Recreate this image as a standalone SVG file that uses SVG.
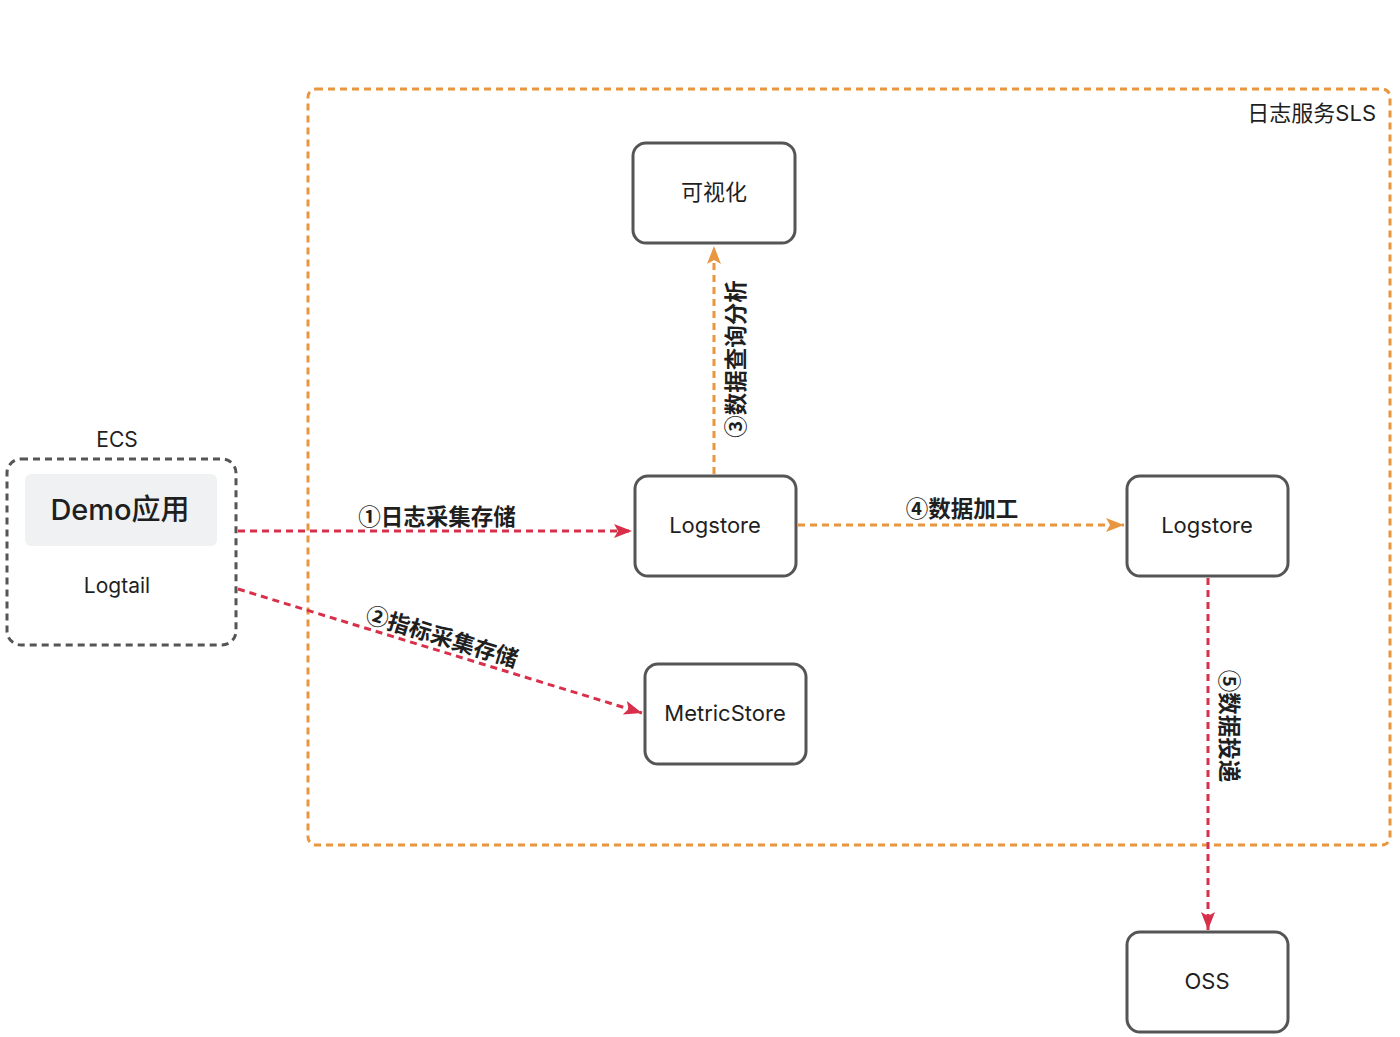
<svg xmlns="http://www.w3.org/2000/svg" width="1400" height="1037" viewBox="0 0 1400 1037">
<style>
.t{font-family:Inter,"Noto Sans CJK SC",sans-serif;fill:#1f1f1f}
.node{fill:#fff;stroke:#555;stroke-width:3}
.lbl{font-family:"Noto Sans CJK SC",sans-serif;font-weight:700;font-size:22.5px;fill:#1f1f1f}
.red{stroke:#D8304A;stroke-width:3;stroke-dasharray:7 5;fill:none}
.org{stroke:#E8963F;stroke-width:3;stroke-dasharray:7 5;fill:none}
</style>
<defs>
<marker id="ar" markerUnits="userSpaceOnUse" markerWidth="20" markerHeight="16" refX="18" refY="8" orient="auto"><path d="M0,1 L18,8 L0,15 L4,8 Z" fill="#D8304A"/></marker>
<marker id="ao" markerUnits="userSpaceOnUse" markerWidth="20" markerHeight="16" refX="18" refY="8" orient="auto"><path d="M0,1 L18,8 L0,15 L4,8 Z" fill="#E8963F"/></marker>
</defs>
<rect width="1400" height="1037" fill="#fff"/>
<g id="sls">
<rect x="308" y="89" width="1082" height="756" rx="8" fill="none" stroke="#E8963F" stroke-width="3" stroke-dasharray="7 5"/>
<text class="t" x="1376" y="121" font-size="22" text-anchor="end">日志服务SLS</text>
</g>
<g id="ecs">
<rect x="7" y="459" width="229" height="186" rx="14" fill="none" stroke="#555" stroke-width="3" stroke-dasharray="7 5"/>
<text class="t" x="117" y="447" font-size="21" text-anchor="middle">ECS</text>
<rect x="25" y="474" width="192" height="72" rx="6" fill="#F0F1F2"/>
<text class="t" x="120" y="520" font-size="29" font-weight="500" text-anchor="middle">Demo应用</text>
<text class="t" x="117" y="593" font-size="21" text-anchor="middle">Logtail</text>
</g>
<g id="connectors">
<line class="red" x1="238" y1="531" x2="632" y2="531" marker-end="url(#ar)"/>
<text class="lbl" x="437" y="525" text-anchor="middle">①日志采集存储</text>
<line class="red" x1="238" y1="589" x2="642" y2="713" marker-end="url(#ar)"/>
<text class="lbl" x="442" y="645" text-anchor="middle" transform="rotate(17 442 637)">②指标采集存储</text>
<line class="org" x1="714" y1="474" x2="714" y2="246" marker-end="url(#ao)"/>
<text class="lbl" x="0" y="0" text-anchor="middle" transform="translate(744 359) rotate(-90)">③数据查询分析</text>
<line class="org" x1="798" y1="525" x2="1124" y2="525" marker-end="url(#ao)"/>
<text class="lbl" x="962" y="517" text-anchor="middle">④数据加工</text>
<line class="red" x1="1208" y1="578" x2="1208" y2="930" marker-end="url(#ar)"/>
<text class="lbl" x="0" y="0" text-anchor="middle" transform="translate(1221 726) rotate(90)">⑤数据投递</text>
</g>
<g id="viz">
<rect class="node" x="633" y="143" width="162" height="100" rx="13"/>
<text class="t" x="714" y="200" font-size="22" text-anchor="middle">可视化</text>
</g>
<g id="logstore1">
<rect class="node" x="635" y="476" width="161" height="100" rx="13"/>
<text class="t" x="715" y="533" font-size="22" text-anchor="middle">Logstore</text>
</g>
<g id="logstore2">
<rect class="node" x="1127" y="476" width="161" height="100" rx="13"/>
<text class="t" x="1207" y="533" font-size="22" text-anchor="middle">Logstore</text>
</g>
<g id="metricstore">
<rect class="node" x="645" y="664" width="161" height="100" rx="13"/>
<text class="t" x="725" y="721" font-size="22" text-anchor="middle">MetricStore</text>
</g>
<g id="oss">
<rect class="node" x="1127" y="932" width="161" height="100" rx="13"/>
<text class="t" x="1207" y="989" font-size="22" text-anchor="middle">OSS</text>
</g>
</svg>
